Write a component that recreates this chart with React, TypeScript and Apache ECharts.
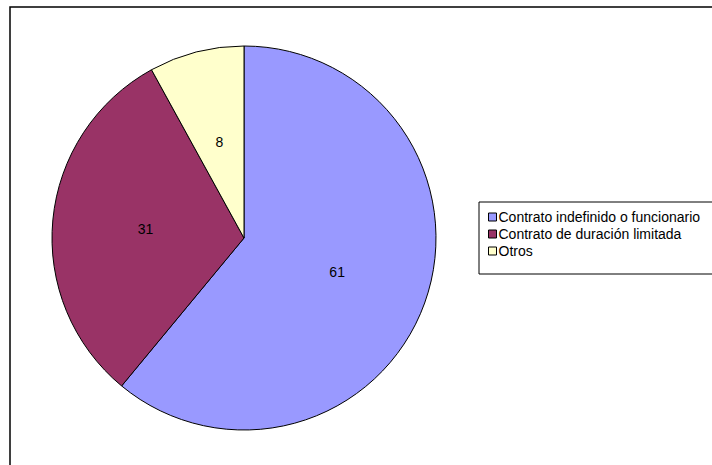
import { useRef, useEffect } from "react";
import * as echarts from "echarts";

const categories = [
  "Contrato indefinido o funcionario",
  "Contrato de duración limitada",
  "Otros",
];
const values = [61, 31, 8];
const colors = ["#9999ff", "#993366", "#ffffcc"];

function App() {
  const chartRef = useRef<HTMLDivElement>(null);

  useEffect(() => {
    document.body.style.margin = "0";
    if (!chartRef.current) return;
    const chart = echarts.init(chartRef.current, undefined, { renderer: "svg" });
    chart.setOption({
      animation: false,
      graphic: [
        {
          type: "rect",
          shape: { x: 10, y: 7, width: 740, height: 500 },
          style: { fill: "none", stroke: "#000", lineWidth: 1.5 },
          z: 0,
        },
        {
          type: "rect",
          shape: { x: 479, y: 202, width: 260, height: 72 },
          style: { fill: "#fff", stroke: "#000", lineWidth: 1 },
          z: 0,
        },
      ],
      legend: {
        orient: "vertical",
        left: 483,
        top: 205,
        itemWidth: 8,
        itemHeight: 8,
        itemGap: 3,
        icon: "rect",
        itemStyle: { borderColor: "#000", borderWidth: 1 },
        textStyle: { fontFamily: "Liberation Sans, Arial", fontSize: 14, color: "#000", padding: [0, 0, 0, -3] },
        data: categories,
        z: 5,
      },
      series: [
        {
          type: "pie",
          center: [244, 238],
          radius: 192,
          startAngle: 90,
          clockwise: true,
          label: {
            position: "inside",
            formatter: "{c}",
            fontFamily: "Liberation Sans, Arial",
            fontSize: 14,
            color: "#000",
          },
          labelLine: { show: false },
          itemStyle: { borderColor: "#000", borderWidth: 1 },
          emphasis: { disabled: true },
          data: categories.map((name, i) => ({
            name,
            value: values[i],
            itemStyle: { color: colors[i] },
          })),
        },
      ],
    });
    return () => chart.dispose();
  }, []);

  return <div ref={chartRef} style={{ width: 712, height: 465 }} />;
}

export default App;
